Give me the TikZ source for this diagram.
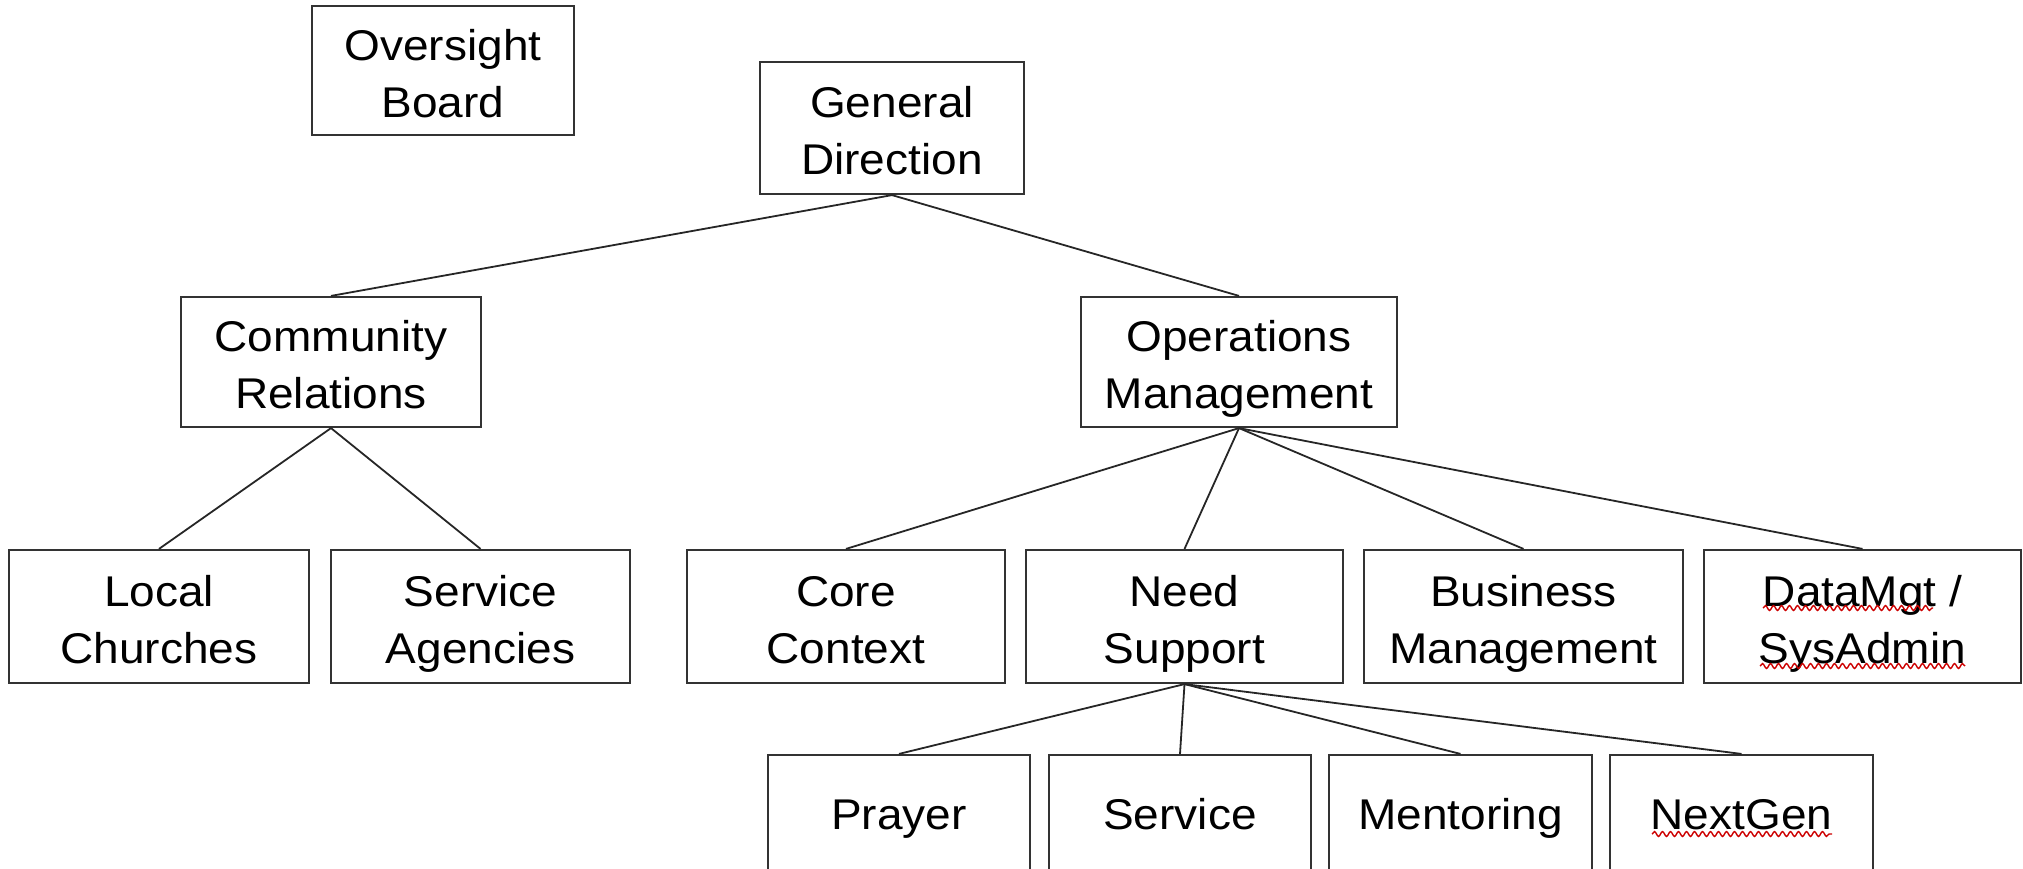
\documentclass[tikz,border=0pt]{standalone}
\usepackage{fontspec}
\setmainfont[FakeStretch=1.07]{Liberation Sans}
\usetikzlibrary{decorations.pathmorphing}
\newcommand{\topstrut}{\rule{0pt}{48pt}}
\newcommand{\botstrut}{\rule[-12pt]{0pt}{12pt}}
\tikzset{
  orgbox/.style={draw=black!80, line width=2.2pt, inner sep=0pt, align=center,
    minimum height=130pt, font=\fontsize{43}{57}\selectfont},
  onebox/.style={orgbox, text height=36pt, text depth=18pt},
  link/.style={draw=black!85, line width=1.8pt},
  spell/.style={draw=red!80!black, line width=1.4pt,
    decorate, decoration={snake, segment length=8pt, amplitude=2.4pt}}
}
\begin{document}
\begin{tikzpicture}[x=1pt,y=-1pt]
\useasboundingbox (0,0) rectangle (2023,868);
\clip (0,0) rectangle (2023,868);
% level 0
\node[orgbox, minimum width=262pt, minimum height=129pt] (ob) at (443,70.5) {\topstrut Oversight\\Board\botstrut};
\node[orgbox, minimum width=264pt, minimum height=132pt] (gd) at (892,128) {\topstrut General\\Direction\botstrut};
% level 1
\node[orgbox, minimum width=300pt] (cr) at (331,362) {\topstrut Community\\Relations\botstrut};
\node[orgbox, minimum width=316pt] (om) at (1239,362) {\topstrut Operations\\Management\botstrut};
% level 2
\node[orgbox, minimum width=300pt, minimum height=133pt] (lc) at (159,616.5) {\topstrut Local\\Churches\botstrut};
\node[orgbox, minimum width=299pt, minimum height=133pt] (sa) at (480.5,616.5) {\topstrut Service\\Agencies\botstrut};
\node[orgbox, minimum width=318pt, minimum height=133pt] (cc) at (846,616.5) {\topstrut Core\\Context\botstrut};
\node[orgbox, minimum width=317pt, minimum height=133pt] (ns) at (1184.5,616.5) {\topstrut Need\\Support\botstrut};
\node[orgbox, minimum width=319pt, minimum height=133pt] (bm) at (1523.5,616.5) {\topstrut Business\\Management\botstrut};
\node[orgbox, minimum width=317pt, minimum height=133pt] (dm) at (1862.5,616.5) {\topstrut DataMgt /\\SysAdmin\botstrut};
% level 3
\node[onebox, minimum width=262pt] (pr) at (899,820) {Prayer};
\node[onebox, minimum width=262pt] (sv) at (1180,820) {Service};
\node[onebox, minimum width=263pt] (me) at (1460.5,820) {Mentoring};
\node[onebox, minimum width=263pt] (ng) at (1741.5,820) {NextGen};
% connectors
\draw[link] (gd.south) -- (cr.north);
\draw[link] (gd.south) -- (om.north);
\draw[link] (cr.south) -- (lc.north);
\draw[link] (cr.south) -- (sa.north);
\draw[link] (om.south) -- (cc.north);
\draw[link] (om.south) -- (ns.north);
\draw[link] (om.south) -- (bm.north);
\draw[link] (om.south) -- (dm.north);
\draw[link] (ns.south) -- (pr.north);
\draw[link] (ns.south) -- (sv.north);
\draw[link] (ns.south) -- (me.north);
\draw[link] (ns.south) -- (ng.north);
% spell-check underlines
\draw[spell] (1763,608) -- (1933,608);
\draw[spell] (1760,666) -- (1965,666);
\draw[spell] (1652,834) -- (1832,834);
\end{tikzpicture}
\end{document}
